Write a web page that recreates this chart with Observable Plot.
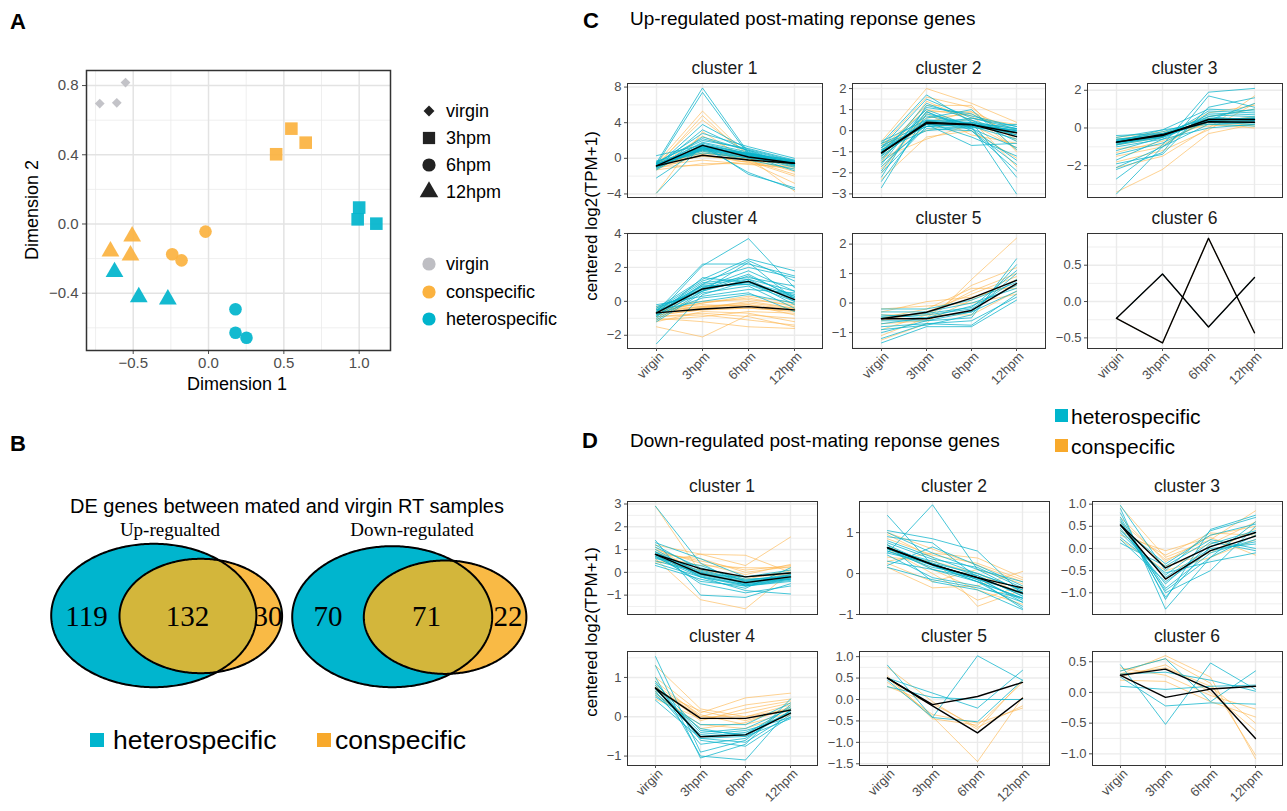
<!DOCTYPE html>
<html><head><meta charset="utf-8">
<script src="https://cdn.jsdelivr.net/npm/d3@7"></script>
<script src="https://cdn.jsdelivr.net/npm/@observablehq/plot@0.6"></script>
<style>
html,body{margin:0;padding:0;background:#fff;}
#root{position:relative;width:1287px;height:811px;overflow:hidden;font-family:"Liberation Sans",Arial,Helvetica,sans-serif;}
.t{position:absolute;white-space:nowrap;line-height:1;}
</style></head><body><div id="root"></div>
<script>
// ---------------- DATA ----------------
const timePoints = ["virgin", "3hpm", "6hpm", "12hpm"];
const groups = ["virgin", "conspecific", "heterospecific"];

// Panel A: MDS
const mdsDim1 = [-0.722, -0.609, -0.551, 0.449, 0.550, 0.645, 1.000, 0.990, 1.114, -0.020, -0.241, -0.179, 0.179, 0.179, 0.252, -0.507, -0.651, -0.518, -0.624, -0.463, -0.270];
const mdsDim2 = [0.696, 0.700, 0.817, 0.403, 0.551, 0.470, 0.095, 0.027, 0.002, -0.044, -0.175, -0.210, -0.493, -0.628, -0.657, -0.071, -0.158, -0.181, -0.277, -0.422, -0.435];
const mdsTime = ["virgin","virgin","virgin","3hpm","3hpm","3hpm","3hpm","3hpm","3hpm","6hpm","6hpm","6hpm","6hpm","6hpm","6hpm","12hpm","12hpm","12hpm","12hpm","12hpm","12hpm"];
const mdsGroup = ["virgin","virgin","virgin","conspecific","conspecific","conspecific","heterospecific","heterospecific","heterospecific","conspecific","conspecific","conspecific","heterospecific","heterospecific","heterospecific","conspecific","conspecific","conspecific","heterospecific","heterospecific","heterospecific"];
const aTicksX = [-0.5, 0, 0.5, 1];
const aTicksY = [-0.4, 0, 0.4, 0.8];

// Panel B: Venn counts
const vennNames = ["Up-regualted", "Down-regulated"];
const vennHeteroOnly = [119, 70];
const vennShared = [132, 71];
const vennConsOnly = [30, 22];

// Panel C: up-regulated clusters (virgin, 3hpm, 6hpm, 12hpm)
const upC1Het = [[-0.5,7.9,0.6,-0.6],[-0.7,7.4,0.4,-0.5],[-0.9,3.8,1.0,-0.3],[-1.0,3.2,0.8,-0.8],[-0.6,2.8,1.3,0.0],[-1.2,2.4,0.9,-0.4],[-0.4,2.0,1.1,-0.2],[-3.9,1.5,0.5,-0.6],[-0.8,1.8,0.7,-0.7],[-0.9,1.4,0.2,-1.0],[-0.6,1.2,0.4,-0.5],[-1.1,1.0,0.6,-0.3],[-0.3,0.9,0.0,-0.6],[0.3,1.5,0.2,-0.4],[-1.3,1.6,-1.8,-3.3],[-0.9,1.3,-1.6,-3.5],[-0.7,0.8,-0.2,-1.2],[-1.0,1.1,0.3,-1.4],[-0.5,2.2,0.9,-0.8],[-0.8,1.7,0.5,-0.2],[-2.2,1.2,0.4,-0.9],[-0.6,0.6,0.1,-0.5],[-0.8,1.3,0.5,-0.4],[-0.7,1.0,0.3,-0.6],[-0.9,1.5,0.6,-0.5],[-0.6,0.9,0.2,-0.7],[-1.0,1.2,0.4,-0.4],[-0.8,1.1,0.0,-0.5],[-0.7,1.4,0.3,-0.6],[-0.9,1.2,0.5,-0.5]];
const upC1Con = [[-0.6,5.3,0.2,-0.8],[-0.9,4.8,0.0,-1.5],[-0.7,4.3,0.5,-0.6],[-3.9,3.0,-0.3,-2.0],[-1.0,2.5,0.1,-3.7],[-0.8,0.8,-0.2,-1.8],[-1.2,0.4,-0.5,-0.9],[-0.5,0.2,-0.1,-0.7],[-0.9,-0.8,-0.3,-0.6],[-1.3,-0.6,-0.6,-1.2],[-0.4,0.6,0.0,-0.4],[-0.7,0.3,-0.4,-2.8],[-1.1,1.0,-0.2,-0.5],[-0.8,-0.2,-0.7,-1.0],[-0.6,0.5,0.3,-0.3]];
const upC2Het = [[-0.6,1.7,0.4,-0.2],[-0.8,1.5,0.6,0.1],[-2.7,0.8,0.3,0.0],[-2.4,0.5,0.2,-0.4],[-2.2,1.2,0.7,0.2],[-1.9,0.9,0.1,-1.4],[-1.7,0.3,-0.7,-0.6],[-1.5,0.1,0.0,-1.9],[-1.3,0.6,1.0,-0.9],[-1.0,1.0,0.2,-3.0],[-0.7,0.2,0.4,-2.2],[-1.1,0.4,-0.3,-1.2],[-0.9,0.0,0.2,0.3],[-0.5,0.5,0.5,-0.1],[-1.2,1.3,0.5,-0.5],[-0.8,0.7,0.3,0.0],[-2.0,0.2,0.1,-0.8],[-1.4,0.9,0.0,-1.6],[-0.6,0.3,0.6,0.2],[-1.6,1.1,0.8,-0.3],[-1.0,0.4,0.3,0.0],[-0.9,0.3,0.2,-0.1],[-1.1,0.5,0.4,0.1],[-0.8,0.2,0.3,-0.2],[-1.2,0.35,0.25,0.05],[-1.0,0.45,0.35,0.1],[-0.95,0.3,0.15,-0.05]];
const upC2Con = [[-0.5,2.0,1.3,0.4],[-0.7,1.6,1.1,-0.5],[-1.0,1.2,1.2,-1.0],[-1.8,0.9,0.9,-0.4],[-2.3,-0.3,0.0,-1.3],[-1.3,-0.4,0.3,-0.8],[-0.9,0.6,0.8,-0.2],[-1.5,1.4,0.5,-1.7],[-0.6,0.0,0.6,0.3],[-1.2,0.4,0.9,0.0],[-2.0,0.8,-0.2,-0.6],[-0.8,1.0,0.7,-0.9]];
const upC3Het = [[-3.5,-1.0,0.2,0.3],[-2.7,-0.9,1.9,2.1],[-2.2,-1.3,1.7,1.1],[-1.9,-1.4,1.1,1.6],[-1.7,-0.6,0.6,1.0],[-1.4,-0.8,0.4,0.5],[-1.2,-0.5,0.9,0.8],[-0.9,-0.3,0.3,0.2],[-0.7,-0.2,0.5,0.4],[-0.5,-0.1,0.2,0.1],[-0.6,-0.4,0.7,0.6],[-0.8,-0.5,0.4,1.3],[-1.0,-0.6,0.0,0.2],[-0.4,-0.3,0.6,0.4],[-2.1,-1.0,0.8,0.7],[-0.7,-0.1,1.0,0.9],[-0.8,-0.4,0.45,0.5],[-0.7,-0.35,0.4,0.4],[-0.75,-0.45,0.5,0.45],[-0.6,-0.3,0.35,0.35],[-0.9,-0.5,0.45,0.5],[-0.65,-0.4,0.3,0.3],[-0.85,-0.45,0.4,0.55]];
const upC3Con = [[-3.4,-2.2,-0.3,0.2],[-2.1,-1.5,0.0,1.7],[-1.8,-1.2,-0.1,1.3],[-1.3,-0.7,0.3,0.6],[-0.9,-0.5,0.8,1.2],[-0.6,-0.3,0.2,0.0],[-1.1,-0.9,0.5,0.4],[-0.5,-0.2,0.1,0.3],[-1.5,-1.0,0.6,1.0],[-0.8,-0.4,0.4,0.1]];
const upC4Het = [[-0.6,2.2,2.2,1.5],[-0.8,2.1,3.7,0.8],[-0.4,1.3,2.5,1.8],[-0.9,1.0,2.4,1.2],[-0.5,1.2,2.0,1.4],[-1.0,0.8,1.8,0.6],[-0.3,0.6,1.5,0.3],[-2.5,0.4,1.2,-0.2],[-0.7,0.9,1.0,0.0],[-0.2,0.3,0.7,0.5],[-1.2,0.5,0.9,-0.4],[-0.6,1.1,1.4,0.9],[-0.8,0.2,0.5,-0.6],[-0.4,0.7,1.6,0.2],[-0.9,1.4,1.1,0.4],[-0.5,0.0,0.4,-0.1],[-1.1,0.6,2.3,0.1],[-0.7,1.0,1.3,0.6],[-0.7,0.7,1.2,0.1],[-0.6,0.8,1.1,0.2],[-0.8,0.6,1.3,0.0],[-0.5,0.9,1.0,0.3]];
const upC4Con = [[-1.5,-2.1,-0.8,-1.0],[-1.0,-1.2,-1.5,-1.6],[-0.9,-0.8,-1.1,-1.4],[-0.6,-0.3,-0.2,-0.8],[-0.5,-0.1,0.2,-0.3],[-0.8,-0.5,-0.4,-0.6],[-0.3,0.0,0.1,-0.2],[-1.2,-0.6,-0.7,-1.2],[-0.7,-0.4,0.0,-0.4],[-0.4,-0.2,-0.3,-0.5],[-0.9,-0.7,-0.9,-1.5],[-0.6,-0.1,0.3,-0.1],[-1.1,-0.9,-0.6,-0.7],[-0.5,-0.3,-0.1,-0.4],[-0.7,-0.4,-0.3,-0.5],[-0.6,-0.35,-0.2,-0.45],[-0.8,-0.5,-0.4,-0.55]];
const upC5Het = [[-1.35,-0.8,-0.8,0.1],[-1.2,-0.7,-0.75,0.3],[-1.0,-0.6,-0.5,1.5],[-0.9,-0.75,-0.4,1.3],[-0.7,-0.5,-0.3,1.0],[-0.5,-0.4,-0.2,0.8],[-0.4,-0.5,-0.1,0.6],[-0.3,-0.3,0.0,0.5],[-0.6,-0.6,-0.3,0.4],[-0.2,-0.2,0.1,0.7],[-0.8,-0.7,-0.6,0.2],[-0.45,-0.35,-0.15,1.1]];
const upC5Con = [[-1.25,-0.7,0.8,2.2],[-1.1,-0.5,0.6,1.2],[-0.9,-0.4,0.4,1.0],[-0.6,-0.3,0.3,0.9],[-0.3,0.05,0.2,0.6],[-0.5,-0.2,0.5,0.5],[-0.4,-0.4,-0.4,0.4],[-0.2,-0.1,0.0,0.3],[-0.7,-0.6,0.1,0.8]];
const upC6Het = [[-0.23,0.38,-0.35,0.33]];
const upC6Con = [[-0.23,-0.57,0.87,-0.43]];
const upMeanHet = [[-0.85,1.46,0.15,-0.55],[-1.05,0.35,0.28,-0.1],[-0.75,-0.4,0.45,0.45],[-0.68,0.73,1.18,0.1],[-0.53,-0.53,-0.25,0.66],[-0.23,0.38,-0.35,0.33]];
const upMeanCon = [[-0.85,0.34,-0.19,-0.55],[-1.05,0.4,0.3,-0.28],[-0.75,-0.35,0.33,0.3],[-0.68,-0.45,-0.31,-0.5],[-0.53,-0.31,0.17,0.77],[-0.23,-0.57,0.87,-0.43]];
const upTicks = [[-4,0,4,8],[-3,-2,-1,0,1,2],[-2,0,2],[-2,0,2,4],[-1,0,1,2],[-0.5,0,0.5]];

// Panel D: down-regulated clusters
const dnC1Het = [[2.9,0.4,-0.6,-0.3],[1.4,-1.0,-1.1,-0.5],[1.3,0.6,-0.2,0.1],[1.1,0.2,-0.3,-0.2],[0.9,-0.2,-0.8,-0.95],[0.7,-0.4,-0.6,-0.4],[0.5,0.0,-0.5,-0.1],[0.3,-0.3,-0.7,0.2],[0.6,0.3,-0.4,-0.3],[1.0,-0.1,-0.2,0.0],[0.8,-0.5,-0.9,-0.6],[1.2,0.1,-0.35,-0.15],[0.4,-0.2,-0.55,-0.25],[0.8,-0.05,-0.45,-0.2],[0.7,-0.1,-0.5,-0.25],[0.9,0.0,-0.4,-0.15],[0.75,-0.15,-0.55,-0.3],[0.65,-0.2,-0.6,-0.35],[0.85,0.05,-0.35,-0.1]];
const dnC1Con = [[2.9,0.0,-0.3,0.1],[0.6,-1.2,-1.6,0.0],[0.4,0.8,0.75,0.0],[1.2,0.8,0.3,1.55],[0.9,0.5,0.1,0.3],[0.7,0.3,0.2,0.2],[1.0,0.4,-0.1,0.35],[0.5,0.1,-0.2,-0.1],[0.8,0.6,0.0,0.25],[1.1,-0.1,-0.4,-0.2]];
const dnC2Het = [[1.42,0.2,-0.2,-0.6],[1.05,0.85,0.55,-0.5],[0.5,1.68,0.1,-0.45],[0.9,0.75,-0.1,-0.7],[0.2,0.65,0.2,-0.3],[0.7,-0.2,-0.4,-0.88],[0.3,0.1,-0.2,-0.8],[0.6,0.3,-0.05,-0.55],[0.8,0.4,0.0,-0.4],[0.45,-0.1,-0.3,-0.7],[1.0,0.5,0.1,-0.2],[0.55,0.2,-0.15,-0.85],[0.15,-0.15,-0.35,-0.6],[0.75,0.35,0.15,-0.35],[0.6,0.2,-0.1,-0.5],[0.65,0.25,-0.15,-0.45],[0.55,0.15,-0.05,-0.55],[0.7,0.2,-0.2,-0.6],[0.5,0.25,0.0,-0.4],[0.62,0.1,-0.12,-0.65]];
const dnC2Con = [[0.15,-0.35,-0.3,0.05],[0.95,0.4,-0.8,-0.4],[0.3,0.5,0.38,-0.1],[0.6,0.0,-0.65,-0.3],[1.0,0.6,0.2,-0.2],[0.4,0.3,0.0,-0.5],[0.7,0.1,-0.4,-0.75],[0.25,-0.2,0.1,-0.25],[0.85,0.45,0.25,-0.15]];
const dnC3Het = [[0.97,-0.5,0.4,0.7],[0.9,-1.37,-0.2,0.6],[0.8,-1.15,0.43,0.75],[0.7,-1.0,-0.5,0.5],[0.6,-0.9,-0.1,0.2],[0.45,-0.8,0.1,0.4],[0.35,-0.65,0.0,0.1],[0.25,-0.55,-0.3,-0.1],[0.12,-0.4,0.2,0.0],[0.5,-0.35,0.3,0.55],[0.55,-0.95,-0.2,0.3],[0.2,-0.75,-0.05,0.15],[0.4,-0.6,0.15,-0.05],[0.65,-1.1,0.05,0.35]];
const dnC3Con = [[0.95,-0.2,0.2,0.85],[0.7,-0.3,0.3,0.5],[0.3,-0.05,0.25,-0.15],[0.5,-0.4,-0.1,0.45],[0.2,-0.5,-0.2,0.2],[0.6,-0.25,0.1,0.6],[0.4,-0.15,0.35,0.3]];
const dnC4Het = [[1.53,-0.9,-0.6,0.3],[1.3,-1.05,-0.7,0.45],[1.0,-1.0,-1.1,0.2],[0.9,-0.6,-0.75,0.0],[0.8,-0.5,-0.4,0.1],[0.7,-0.4,-0.3,0.2],[0.6,-0.3,-0.5,-0.05],[0.5,-0.2,-0.2,0.35],[0.42,-0.55,-0.65,0.05],[0.65,-0.7,-0.55,0.15],[0.85,-0.35,-0.45,0.25],[0.55,-0.45,-0.35,-0.02],[0.7,-0.5,-0.45,0.1],[0.75,-0.55,-0.5,0.15]];
const dnC4Con = [[1.3,0.2,0.0,0.3],[1.0,0.1,0.48,0.6],[0.9,0.0,0.3,0.45],[0.75,-0.1,0.2,0.4],[0.65,0.15,-0.1,0.2],[0.55,-0.2,-0.3,0.05],[0.45,-0.05,0.1,0.35],[0.8,0.05,-0.2,0.1],[0.6,-0.3,-0.15,0.25],[0.7,-0.05,-0.05,0.15],[0.75,0.0,0.0,0.2]];
const dnC5Het = [[0.8,-0.42,1.02,0.45],[0.5,0.15,-0.2,0.68],[0.3,0.05,0.0,0.0],[0.45,-0.42,-0.52,0.45]];
const dnC5Con = [[0.5,-0.4,-1.45,0.05],[0.4,-0.35,-0.55,-0.2],[0.3,-0.1,-0.65,-0.15],[0.75,-0.05,-0.7,0.45],[0.55,-0.45,-0.6,0.4]];
const dnC6Het = [[0.45,-0.52,0.48,0.05],[0.35,0.55,-0.15,0.35],[0.1,0.05,0.1,0.12],[0.25,-0.22,-0.17,-0.19],[0.3,0.33,0.2,0.02]];
const dnC6Con = [[0.3,0.6,0.25,-1.08],[0.35,0.55,0.15,-1.02],[0.2,0.18,-0.15,-0.4],[0.4,0.28,-0.05,-0.27],[0.25,0.45,0.0,-0.62],[0.3,0.4,0.1,-0.5]];
const dnMeanHet = [[0.79,-0.06,-0.45,-0.2],[0.63,0.22,-0.1,-0.48],[0.53,-0.69,-0.05,0.28],[0.73,-0.51,-0.46,0.09],[0.5,-0.12,0.07,0.4],[0.28,-0.08,0.055,0.1]];
const dnMeanCon = [[0.79,0.16,-0.2,-0.03],[0.63,0.22,-0.1,-0.35],[0.53,-0.44,0.04,0.36],[0.73,-0.04,-0.04,0.17],[0.5,-0.15,-0.78,0.03],[0.28,0.38,0.055,-0.75]];
const dnTicks = [[-1,0,1,2,3],[-1,0,1],[-1,-0.5,0,0.5,1],[-1,0,1],[-1.5,-1,-0.5,0,0.5,1],[-1,-0.5,0,0.5]];

// ---------------- STYLE / LAYOUT ----------------
const FONT = '"Liberation Sans", Arial, Helvetica, sans-serif';
const CYAN = "#00B4CC", ORANGE = "#FBB23F", GRAY = "#BEBEC3";
const LINE_CYAN = "#0AB3CB", LINE_ORANGE = "#FDB44A";
const GRID = "#EBEBEB";
const root = document.getElementById("root");

function txt(s, x, y, o = {}) {
  const d = document.createElement("div");
  d.className = "t"; d.textContent = s;
  d.style.fontSize = (o.size || 14) + "px";
  d.style.fontFamily = o.family || FONT;
  if (o.weight) d.style.fontWeight = o.weight;
  d.style.color = o.color || "#000";
  const ax = o.anchor === "start" ? 0 : o.anchor === "end" ? 100 : 50;
  d.style.left = x + "px"; d.style.top = y + "px";
  d.style.transform = `translate(-${ax}%,-50%)` + (o.rotate ? ` rotate(${o.rotate}deg)` : "");
  root.appendChild(d); return d;
}
function square(x, y, s, color) {
  const d = document.createElement("div");
  Object.assign(d.style, {position: "absolute", left: x + "px", top: y + "px", width: s + "px", height: s + "px", background: color});
  root.appendChild(d);
}
function symKey(type, r, color, cx, cy) {
  const s = d3.create("svg").attr("width", 24).attr("height", 24)
    .style("position", "absolute").style("left", (cx - 12) + "px").style("top", (cy - 12) + "px");
  s.append("path").attr("transform", "translate(12,12)")
    .attr("d", d3.symbol(type, Math.PI * r * r)()).attr("fill", color);
  root.appendChild(s.node());
}
function put(svg, x, y) {
  svg.style.position = "absolute"; svg.style.left = x + "px"; svg.style.top = y + "px";
  svg.style.maxWidth = "none";
  root.appendChild(svg);
}
function minorOf(ticks, dom) {
  const step = ticks[1] - ticks[0], out = [];
  for (let k = -1; k < ticks.length; k++) {
    const m = ticks[0] + (k + 0.5) * step;
    if (m > dom[0] && m < dom[1]) out.push(m);
  }
  return out;
}

// ---------------- PANEL A ----------------
const mds = mdsDim1.map((d, i) => ({d1: d, d2: mdsDim2[i], time: mdsTime[i], group: mdsGroup[i]}));
const symSpec = {virgin: {s: "diamond2", r: 4.4}, "3hpm": {s: "square", r: 7.1}, "6hpm": {s: "circle", r: 6.3}, "12hpm": {s: "triangle", r: 6.6}};
const aDomX = [-0.81, 1.208], aDomY = [-0.731, 0.887];
const plotA = Plot.plot({
  width: 394, height: 400, marginLeft: 86, marginRight: 4, marginTop: 70, marginBottom: 50,
  style: {fontFamily: FONT, fontSize: "15px", color: "#4d4d4d", background: "transparent", overflow: "visible"},
  x: {domain: aDomX, ticks: aTicksX, tickFormat: d3.format(".1f"), tickSize: 4, tickPadding: 3, label: null},
  y: {domain: aDomY, ticks: aTicksY, tickFormat: d3.format(".1f"), tickSize: 4, tickPadding: 4, label: null},
  color: {domain: groups, range: [GRAY, ORANGE, CYAN]},
  marks: [
    Plot.ruleX(minorOf(aTicksX, aDomX), {stroke: GRID, strokeWidth: 0.8}),
    Plot.ruleY(minorOf(aTicksY, aDomY), {stroke: GRID, strokeWidth: 0.8}),
    Plot.ruleX(aTicksX, {stroke: "#E3E3E3", strokeWidth: 1.5}),
    Plot.ruleY(aTicksY, {stroke: "#E3E3E3", strokeWidth: 1.5}),
    ...timePoints.map(t => Plot.dot(mds.filter(d => d.time === t),
      {x: "d1", y: "d2", fill: "group", symbol: symSpec[t].s, r: symSpec[t].r, fillOpacity: 0.92})),
    Plot.frame({stroke: "#333", strokeWidth: 1.5})
  ]
});
put(plotA, 0, 0);
txt("Dimension 1", 237, 384, {size: 18});
txt("Dimension 2", 32, 210, {size: 18, rotate: -90});
// legend A
const legShape = [[d3.symbolDiamond2 || d3.symbolDiamond, 4.9, 111], [d3.symbolSquare, 6.9, 138], [d3.symbolCircle, 6.6, 165], [d3.symbolTriangle, 6.9, 192]];
legShape.forEach(([sym, r, y], i) => { symKey(sym, r, "#222", 429, y); txt(timePoints[i], 446, y, {size: 18, anchor: "start"}); });
[[264, GRAY], [292, ORANGE], [319, CYAN]].forEach(([y, c], i) => { symKey(d3.symbolCircle, 6.6, c, 429, y); txt(groups[i], 446, y, {size: 18, anchor: "start"}); });

// ---------------- PANEL B (Venn) ----------------
const vennGeom = [
  {big: {cx: 153.3, cy: 615, rx: 102.6, ry: 71.7}, small: {cx: 200.3, cy: 615.5, rx: 81.3, ry: 57.2}, lx: [86, 187, 267.5], ly: 616, tx: 170},
  {big: {cx: 391.7, cy: 616.2, rx: 100, ry: 70.5}, small: {cx: 444.6, cy: 616.7, rx: 81.3, ry: 56.7}, lx: [327.5, 426, 507.5], ly: 616, tx: 412}
];
function ellipsePts(e, n = 360) {
  return d3.range(n).map(i => { const a = 2 * Math.PI * i / n; return {x: e.cx + e.rx * Math.cos(a), y: e.cy + e.ry * Math.sin(a)}; });
}
function inside(e, p) { const dx = (p.x - e.cx) / e.rx, dy = (p.y - e.cy) / e.ry; return dx * dx + dy * dy <= 1; }
const vennMarks = [];
const vennLabels = [];
vennGeom.forEach((g, k) => {
  const bigP = ellipsePts(g.big), smallP = ellipsePts(g.small);
  const inter = [...bigP.filter(p => inside(g.small, p)), ...smallP.filter(p => inside(g.big, p))];
  const c = {x: d3.mean(inter, p => p.x), y: d3.mean(inter, p => p.y)};
  inter.sort((a, b) => Math.atan2(a.y - c.y, a.x - c.x) - Math.atan2(b.y - c.y, b.x - c.x));
  vennMarks.push(
    Plot.line(bigP, {x: "x", y: "y", curve: "linear-closed", fill: "#00B5CE", stroke: "none"}),
    Plot.line(smallP, {x: "x", y: "y", curve: "linear-closed", fill: "#F9BA45", stroke: "none"}),
    Plot.line(inter, {x: "x", y: "y", curve: "linear-closed", fill: "#D3B63B", stroke: "none"}),
    Plot.line(bigP, {x: "x", y: "y", curve: "linear-closed", fill: "none", stroke: "#000", strokeWidth: 2}),
    Plot.line(smallP, {x: "x", y: "y", curve: "linear-closed", fill: "none", stroke: "#000", strokeWidth: 2})
  );
  [vennHeteroOnly[k], vennShared[k], vennConsOnly[k]].forEach((v, j) => vennLabels.push({x: g.lx[j], y: g.ly, v}));
});
const plotB = Plot.plot({
  width: 540, height: 170, margin: 0,
  style: {background: "transparent", overflow: "visible"},
  x: {domain: [0, 540], axis: null},
  y: {domain: [535, 705], reverse: true, axis: null},
  marks: [
    ...vennMarks,
    Plot.text(vennLabels, {x: "x", y: "y", text: "v", fontSize: 29, fontFamily: '"Liberation Serif", "Times New Roman", serif', fill: "#000"})
  ]
});
put(plotB, 0, 535);
txt("DE genes between mated and virgin RT samples", 287, 506, {size: 20});
vennGeom.forEach((g, k) => txt(vennNames[k], g.tx, 529, {size: 19, family: '"Liberation Serif", "Times New Roman", serif'}));
square(90, 733, 13.5, "#00B5CE"); txt("heterospecific", 113, 740, {size: 26.5, anchor: "start"});
square(317, 733, 13.5, "#F8A92B"); txt("conspecific", 335, 740, {size: 26.5, anchor: "start"});

// ---------------- PANELS C & D (facets) ----------------
function facet(het, con, meanH, meanC, ticks, dom, fmt, rect, xAxis, title) {
  const [L, R, T, B] = rect;
  const mL = 42, mR = 3, mT = 3, mB = xAxis ? 60 : 3;
  const rows = (arr, g) => arr.flatMap((gene, j) => gene.map((v, i) => ({id: g + j, t: timePoints[i], v})));
  const p = Plot.plot({
    width: R - L + mL + mR, height: B - T + mT + mB,
    marginLeft: mL, marginRight: mR, marginTop: mT, marginBottom: mB,
    style: {fontFamily: FONT, fontSize: "13px", color: "#4d4d4d", background: "transparent", overflow: "visible"},
    x: {type: "point", domain: timePoints, padding: 0.6, axis: null},
    y: {domain: dom, ticks: ticks, tickFormat: d3.format(fmt), tickSize: 3, tickPadding: 3, label: null},
    marks: [
      Plot.ruleY(minorOf(ticks, dom), {stroke: GRID, strokeWidth: 0.8}),
      Plot.ruleY(ticks, {stroke: GRID, strokeWidth: 1.4}),
      Plot.ruleX(timePoints, {stroke: GRID, strokeWidth: 1.4}),
      Plot.line(rows(con, "c"), {x: "t", y: "v", z: "id", stroke: LINE_ORANGE, strokeWidth: 1, strokeOpacity: 0.6}),
      Plot.line(rows(het, "h"), {x: "t", y: "v", z: "id", stroke: LINE_CYAN, strokeWidth: 1, strokeOpacity: 0.75}),
      Plot.line(rows([meanC], "mc"), {x: "t", y: "v", z: "id", stroke: "#000", strokeWidth: 1.4}),
      Plot.line(rows([meanH], "mh"), {x: "t", y: "v", z: "id", stroke: "#000", strokeWidth: 1.4}),
      Plot.frame({stroke: "#333", strokeWidth: 1}),
      ...(xAxis ? [
        Plot.axisX({tickSize: 3, text: null, label: null}),
        Plot.axisX({tickSize: 0, tickRotate: -45, tickPadding: 6, dx: 5, label: null, fill: "#4d4d4d"})
      ] : [])
    ]
  });
  put(p, L - mL, T - mT);
  txt(title, (L + R) / 2, T - 14, {size: 17.5, color: "#1a1a1a"});
}
const upHet = [upC1Het, upC2Het, upC3Het, upC4Het, upC5Het, upC6Het];
const upCon = [upC1Con, upC2Con, upC3Con, upC4Con, upC5Con, upC6Con];
const dnHet = [dnC1Het, dnC2Het, dnC3Het, dnC4Het, dnC5Het, dnC6Het];
const dnCon = [dnC1Con, dnC2Con, dnC3Con, dnC4Con, dnC5Con, dnC6Con];
const upLayout = [
  {dom: [-4.4, 8.4], fmt: "d", rect: [627, 822, 83, 197]},
  {dom: [-3.17, 2.24], fmt: "d", rect: [852, 1045, 83, 197]},
  {dom: [-3.69, 2.36], fmt: "d", rect: [1087, 1282, 83, 197]},
  {dom: [-2.78, 4.0], fmt: "d", rect: [627, 822, 233, 348]},
  {dom: [-1.54, 2.36], fmt: "d", rect: [852, 1045, 233, 348]},
  {dom: [-0.646, 0.936], fmt: ".1f", rect: [1087, 1282, 233, 348]}
];
const dnLayout = [
  {dom: [-1.85, 3.11], fmt: "d", rect: [627, 817, 501, 614]},
  {dom: [-1.0, 1.76], fmt: "d", rect: [859, 1049, 501, 614]},
  {dom: [-1.49, 1.06], fmt: ".1f", rect: [1092, 1282, 501, 614]},
  {dom: [-1.24, 1.66], fmt: "d", rect: [627, 817, 651, 765]},
  {dom: [-1.54, 1.12], fmt: ".1f", rect: [859, 1049, 651, 765]},
  {dom: [-1.19, 0.667], fmt: ".1f", rect: [1092, 1282, 651, 765]}
];
upLayout.forEach((l, i) => facet(upHet[i], upCon[i], upMeanHet[i], upMeanCon[i], upTicks[i], l.dom, l.fmt, l.rect, i >= 3, "cluster " + (i + 1)));
dnLayout.forEach((l, i) => facet(dnHet[i], dnCon[i], dnMeanHet[i], dnMeanCon[i], dnTicks[i], l.dom, l.fmt, l.rect, i >= 3, "cluster " + (i + 1)));

txt("centered log2(TPM+1)", 591, 216, {size: 17, rotate: -90});
txt("centered log2(TPM+1)", 591, 632, {size: 17, rotate: -90});
txt("Up-regulated post-mating reponse genes", 630, 18, {size: 19, anchor: "start"});
txt("Down-regulated post-mating reponse genes", 630, 440, {size: 19, anchor: "start"});
square(1055, 409, 13, "#00B5CC"); txt("heterospecific", 1071, 416, {size: 21, anchor: "start"});
square(1055, 439, 13, "#F8A92B"); txt("conspecific", 1071, 446, {size: 21, anchor: "start"});

// panel letters
txt("A", 18, 22, {size: 22, weight: "bold"});
txt("B", 18, 444, {size: 22, weight: "bold"});
txt("C", 591, 21, {size: 22, weight: "bold"});
txt("D", 590, 441, {size: 22, weight: "bold"});
</script></body></html>
